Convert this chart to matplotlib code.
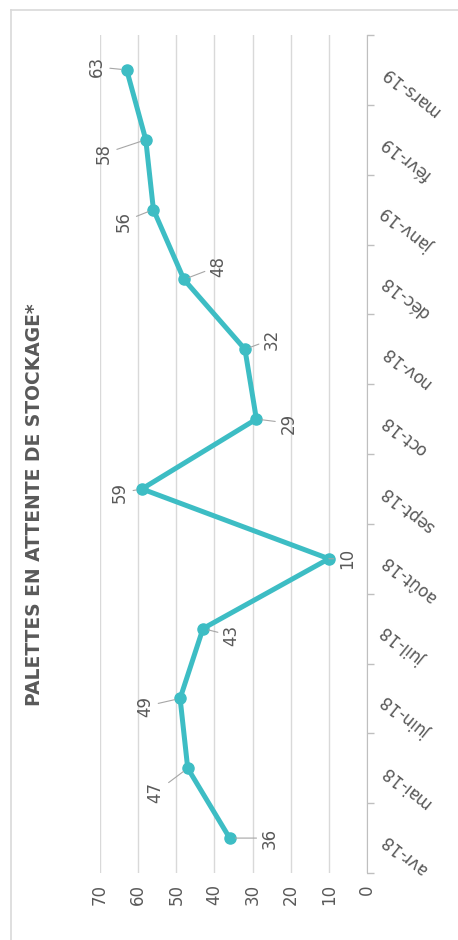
import numpy as np
import matplotlib
matplotlib.use("Agg")
import matplotlib.pyplot as plt
from matplotlib.lines import Line2D

# Data (months of storage backlog)
months = ['avr-18', 'mai-18', 'juin-18', 'juil-18', 'août-18', 'sept-18',
          'oct-18', 'nov-18', 'déc-18', 'janv-19', 'févr-19', 'mars-19']
palettes = [36, 47, 49, 43, 10, 59, 29, 32, 48, 56, 58, 63]
value_ticks = [0, 10, 20, 30, 40, 50, 60, 70]
title = 'PALETTES EN ATTENTE DE STOCKAGE*'

# label offsets (pixels, x right / y up) for each data label
label_dx = [40, -32, -35, 28, 18, -22, 32, 27, 34, -30, -42, -30]
label_dy = [0, -24, -8, -7, 0, -4, -4, 10, 13, -12, -14, 3]

teal = '#3dbdc4'
grey_txt = '#595959'
grid_col = '#d9d9d9'

fig = plt.figure(figsize=(4.58, 9.40), dpi=100)
ax = fig.add_axes([100 / 458, 67 / 940, 267 / 458, 838 / 940])

ypos = np.arange(len(months))
ax.plot(palettes, ypos, color=teal, lw=3.6, marker='o', markersize=8,
        solid_joinstyle='round', zorder=3)

for v, y, dx, dy in zip(palettes, ypos, label_dx, label_dy):
    ax.annotate(str(v), xy=(v, y), xytext=(dx, dy), textcoords='offset pixels',
                rotation=90, ha='center', va='center', fontsize=12,
                color=grey_txt,
                arrowprops=dict(arrowstyle='-', color='#a6a6a6', lw=0.8,
                                shrinkA=1, shrinkB=4))

ax.set_xlim(70, 0)
ax.set_ylim(-0.5, len(months) - 0.5)

# value axis (horizontal, drawn at the bottom)
ax.set_xticks(value_ticks)
ax.set_xticklabels([str(t) for t in value_ticks], rotation=90,
                   fontsize=12, color=grey_txt)
ax.tick_params(axis='x', length=0, pad=8)
ax.grid(axis='x', color=grid_col, lw=1)
ax.set_axisbelow(True)

# category axis (vertical, on the right)
ax.yaxis.tick_right()
ax.set_yticks(ypos)
ax.set_yticklabels(months, fontsize=12, color=grey_txt)
ax.set_yticks(np.arange(-0.5, len(months)), minor=True)
ax.tick_params(axis='y', which='major', length=0, pad=12)
ax.tick_params(axis='y', which='minor', length=5, color='#bfbfbf', width=1)
plt.setp(ax.get_yticklabels(), rotation=141, rotation_mode='anchor',
         ha='right', va='center')

for side in ['left', 'top', 'bottom']:
    ax.spines[side].set_visible(False)
ax.spines['right'].set_color('#bfbfbf')

fig.text(35 / 458, 1 - 505 / 940, title, rotation=90, ha='center',
         va='center', fontsize=13.5, fontweight='bold', color=grey_txt)

# outer frame
fig.add_artist(Line2D([11 / 458, 1], [1 - 10 / 940, 1 - 10 / 940],
                      color=grid_col, lw=1.2))
fig.add_artist(Line2D([11 / 458, 11 / 458], [0, 1 - 10 / 940],
                      color=grid_col, lw=1.2))

fig.savefig('out.png', dpi=100)
